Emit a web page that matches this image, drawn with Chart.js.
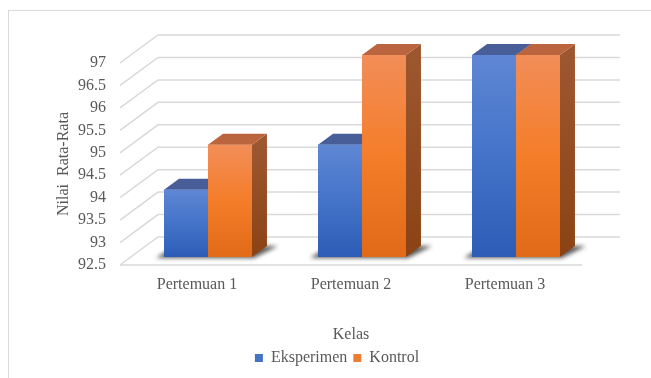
<!DOCTYPE html>
<html>
<head>
<meta charset="utf-8">
<script src="https://cdn.jsdelivr.net/npm/chart.js@4.4.1/dist/chart.umd.min.js"></script>
<style>
    html, body { margin: 0; padding: 0; background: #fff; }
    canvas { display: block; }
</style>
</head>
<body>
<canvas id="chart" width="651" height="378"></canvas>
<script>
// Nilai rata-rata per pertemuan, kelas eksperimen vs kontrol
const categories = ["Pertemuan 1", "Pertemuan 2", "Pertemuan 3"];
const eksperimen = [94, 95, 97];
const kontrol = [95, 97, 97];
const yTicks = [92.5, 93, 93.5, 94, 94.5, 95, 95.5, 96, 96.5, 97];

const FONT = "'Liberation Serif', 'Times New Roman', serif";
const TEXT = "#595959";
const GRID = "#d9d9d9";

// fake 3D: wall depth, bar row offset, bar depth
const DX = 38, DY = -28;
const BX = 11, BY = -8;
const SX = 15, SY = -11;

const FACES = [
    { front: ["#5f87d4", "#4473c9", "#2d5cb6"], top: "#485e98", side: ["#3a5596", "#2a4580"] },
    { front: ["#f28e58", "#f47d2a", "#e06a17"], top: "#ba653d", side: ["#9d572f", "#8b4315"] }
];

function barBox(el) {
    const p = el.getProps(["x", "y", "base", "width"], true);
    return { l: p.x - p.width / 2, r: p.x + p.width / 2, t: p.y, b: p.base };
}

function poly(ctx, pts, fill) {
    ctx.beginPath();
    ctx.moveTo(pts[0][0], pts[0][1]);
    for (let i = 1; i < pts.length; i++) ctx.lineTo(pts[i][0], pts[i][1]);
    ctx.closePath();
    ctx.fillStyle = fill;
    ctx.fill();
}

const scene3d = {
    id: "scene3d",
    afterLayout(chart) {
        // legend sits a bit right of the plot centre in the original
        const lg = chart.legend;
        lg.left += 21;
        lg.right += 21;
    },
    beforeDraw(chart) {
        const ctx = chart.ctx;
        ctx.save();
        ctx.strokeStyle = "#d9d9d9";
        ctx.lineWidth = 1;
        ctx.strokeRect(8.5, 10.5, 800, 500);
        ctx.restore();
    },
    beforeDatasetsDraw(chart) {
        const { ctx, chartArea } = chart;
        const { left, right, bottom } = chartArea;
        const y = chart.scales.y;
        ctx.save();
        ctx.strokeStyle = GRID;
        ctx.lineWidth = 1.5;
        yTicks.forEach(v => {
            const py = y.getPixelForValue(v);
            ctx.beginPath();
            ctx.moveTo(left, py);
            ctx.lineTo(left + DX, py + DY);
            ctx.lineTo(right + DX, py + DY);
            ctx.stroke();
        });
        ctx.beginPath();
        ctx.moveTo(left, bottom);
        ctx.lineTo(right, bottom);
        ctx.stroke();

        // soft shadow under each pair of bars
        const m0 = chart.getDatasetMeta(0), m1 = chart.getDatasetMeta(1);
        ctx.translate(BX, BY);
        ctx.filter = "blur(2px)";
        categories.forEach((c, i) => {
            const a = barBox(m0.data[i]), z = barBox(m1.data[i]);
            const b = a.b;
            poly(ctx, [
                [a.l - 8, b + 1], [z.r + 2, b + 1],
                [z.r + SX + 11, b + SY], [a.l + SX - 4, b + SY]
            ], "rgba(0,0,0,0.65)");
        });
        ctx.restore();
    },
    // the flat bars from Chart.js are pushed back into the bar row
    beforeDatasetDraw(chart) {
        chart.ctx.save();
        chart.ctx.translate(BX, BY);
    },
    afterDatasetDraw(chart) {
        chart.ctx.restore();
    },
    // then every bar gets its side, top and shaded front, left series first
    afterDatasetsDraw(chart) {
        const ctx = chart.ctx;
        ctx.save();
        ctx.translate(BX, BY);
        categories.forEach((c, i) => {
            FACES.forEach((f, d) => {
                const { l, r, t, b } = barBox(chart.getDatasetMeta(d).data[i]);
                const side = ctx.createLinearGradient(0, t, 0, b);
                side.addColorStop(0, f.side[0]);
                side.addColorStop(1, f.side[1]);
                poly(ctx, [[r, t], [r + SX, t + SY], [r + SX, b + SY], [r, b]], side);
                poly(ctx, [[l, t], [r, t], [r + SX, t + SY], [l + SX, t + SY]], f.top);
                const front = ctx.createLinearGradient(0, t, 0, b);
                front.addColorStop(0, f.front[0]);
                front.addColorStop(0.5, f.front[1]);
                front.addColorStop(1, f.front[2]);
                ctx.fillStyle = front;
                ctx.fillRect(l, t, r - l, b - t);
            });
        });
        ctx.restore();
    }
};

new Chart(document.getElementById("chart"), {
    type: "bar",
    data: {
        labels: categories,
        datasets: [
            { label: "Eksperimen", data: eksperimen, backgroundColor: "#4472c4" },
            { label: "Kontrol", data: kontrol, backgroundColor: "#ed7d31" }
        ]
    },
    options: {
        responsive: false,
        animation: false,
        events: [],
        base: yTicks[0],
        categoryPercentage: 0.571,
        barPercentage: 1,
        borderWidth: 0,
        layout: { padding: { top: 63, left: 50, right: 69, bottom: 2 } },
        plugins: {
            tooltip: { enabled: false },
            legend: {
                position: "bottom",
                labels: {
                    boxWidth: 8,
                    boxHeight: 8,
                    padding: 6,
                    color: TEXT,
                    font: { family: FONT, size: 16 }
                }
            }
        },
        scales: {
            x: {
                grid: { display: false, drawTicks: false },
                border: { display: false },
                ticks: { color: TEXT, padding: 10, font: { family: FONT, size: 16 } },
                title: {
                    display: true,
                    text: "Kelas",
                    color: TEXT,
                    padding: { top: 0, bottom: 0 },
                    font: { family: FONT, size: 16 }
                },
                afterFit: s => { s.height = 79; }
            },
            y: {
                min: yTicks[0],
                max: yTicks[yTicks.length - 1],
                grid: { display: false, drawTicks: false },
                border: { display: false },
                afterBuildTicks: s => { s.ticks = yTicks.map(v => ({ value: v })); },
                ticks: {
                    color: TEXT,
                    padding: 14,
                    font: { family: FONT, size: 16 },
                    callback: v => String(v)
                },
                title: {
                    display: true,
                    text: "Nilai  Rata-Rata",
                    color: TEXT,
                    padding: { top: 4, bottom: 0 },
                    font: { family: FONT, size: 16 }
                },
                afterFit: s => { s.width = 70; }
            }
        }
    },
    plugins: [scene3d]
});
</script>
</body>
</html>
